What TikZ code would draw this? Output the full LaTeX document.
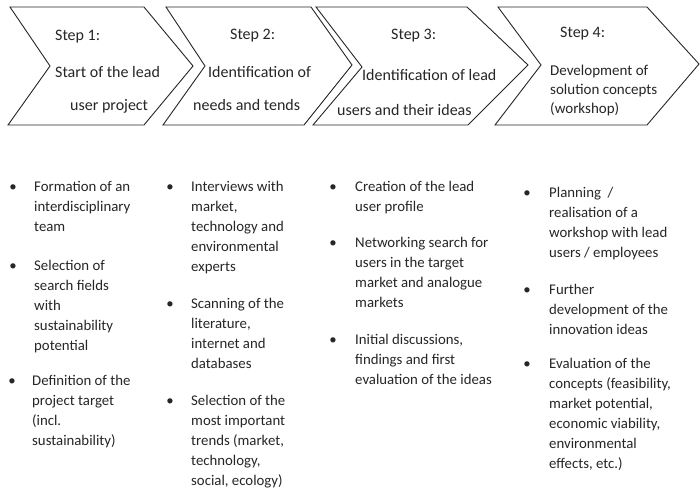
\documentclass[tikz,border=0pt]{standalone}
\usepackage{fontspec}
\setmainfont{Carlito}
% stacked lines whose baseline is that of the first line
\newcommand\stacklines[1]{\begin{tabular}[t]{@{}l@{}}#1\end{tabular}}
\begin{document}
\begin{tikzpicture}[x=1pt,y=-1pt,
  chev/.style={draw=black!85, line width=0.9pt, line join=miter},
  hd/.style={anchor=base west, inner sep=0pt, font=\fontsize{16}{19}\selectfont, text=black!85},
  hdsmall/.style={hd, font=\fontsize{15}{19}\selectfont},
  itm/.style={anchor=base west, inner sep=0pt, font=\fontsize{14.8}{20}\selectfont, text=black!85},
  dot/.style={anchor=base, inner sep=0pt, font=\fontsize{14.8}{20}\selectfont, text=black!85}]
\useasboundingbox (0,0) rectangle (700,491);
\fill[white] (0,0) rectangle (700,491);

% process chevrons
\draw[chev] (10,7) -- (144,7) -- (193,66) -- (144,125) -- (8,125) -- (50,66) -- cycle;
\draw[chev] (166,7) -- (311,7) -- (352,65) -- (304,125) -- (163,125) -- (205,66) -- cycle;
\draw[chev] (316,7) -- (467,7) -- (528,65) -- (468,125) -- (313,125) -- (362,67) -- cycle;
\draw[chev] (498,7) -- (647,7) -- (699,64) -- (647,125) -- (495,125) -- (541,65) -- cycle;

% chevron labels
\node[hd] (s1a) at (55,40) {Step 1:};
\node[hd] (s1b) at (55,77) {Start of the lead};
\node[hd] (s1c) at (70,110) {user project};

\node[hd] (s2a) at (230,39) {Step 2:};
\node[hd] (s2b) at (208,77) {Identification of};
\node[hd] (s2c) at (193,110) {needs and tends};

\node[hd] (s3a) at (391,39) {Step 3:};
\node[hd] (s3b) at (362,80) {Identification of lead};
\node[hd] (s3c) at (337,115) {users and their ideas};

\node[hd] (s4a) at (560,37) {Step 4:};
\node[hdsmall] (s4b) at (550,75) {Development of};
\node[hdsmall] (s4c) at (550,94) {solution concepts};
\node[hdsmall] (s4d) at (550,113) {(workshop)};

% column 1
\node[dot] (b11) at (13,191) {•};
\node[itm] (t11) at (34,191) {\stacklines{Formation of an\\interdisciplinary\\team}};
\node[dot] (b12) at (13,270) {•};
\node[itm] (t12) at (34,270) {\stacklines{Selection of\\search fields\\with\\sustainability\\potential}};
\node[dot] (b13) at (12,385) {•};
\node[itm] (t13) at (32,385) {\stacklines{Definition of the\\project target\\(incl.\\sustainability)}};

% column 2
\node[dot] (b21) at (170,191) {•};
\node[itm] (t21) at (191,191) {\stacklines{Interviews with\\market,\\technology and\\environmental\\experts}};
\node[dot] (b22) at (170,308) {•};
\node[itm] (t22) at (191,308) {\stacklines{Scanning of the\\literature,\\internet and\\databases}};
\node[dot] (b23) at (170,405) {•};
\node[itm] (t23) at (191,405) {\stacklines{Selection of the\\most important\\trends (market,\\technology,\\social, ecology)}};

% column 3
\node[dot] (b31) at (333,191) {•};
\node[itm] (t31) at (355,191) {\stacklines{Creation of the lead\\user profile}};
\node[dot] (b32) at (333,247) {•};
\node[itm] (t32) at (355,247) {\stacklines{Networking search for\\users in the target\\market and analogue\\markets}};
\node[dot] (b33) at (333,344) {•};
\node[itm] (t33) at (355,344) {\stacklines{Initial discussions,\\findings and first\\evaluation of the ideas}};

% column 4
\node[dot] (b41) at (527,197) {•};
\node[itm] (t41) at (549,197) {\stacklines{Planning~ /\\realisation of a\\workshop with lead\\users / employees}};
\node[dot] (b42) at (527,294) {•};
\node[itm] (t42) at (549,294) {\stacklines{Further\\development of the\\innovation ideas}};
\node[dot] (b43) at (527,368) {•};
\node[itm] (t43) at (549,368) {\stacklines{Evaluation of the\\concepts (feasibility,\\market potential,\\economic viability,\\environmental\\effects, etc.)}};
\end{tikzpicture}
\end{document}
